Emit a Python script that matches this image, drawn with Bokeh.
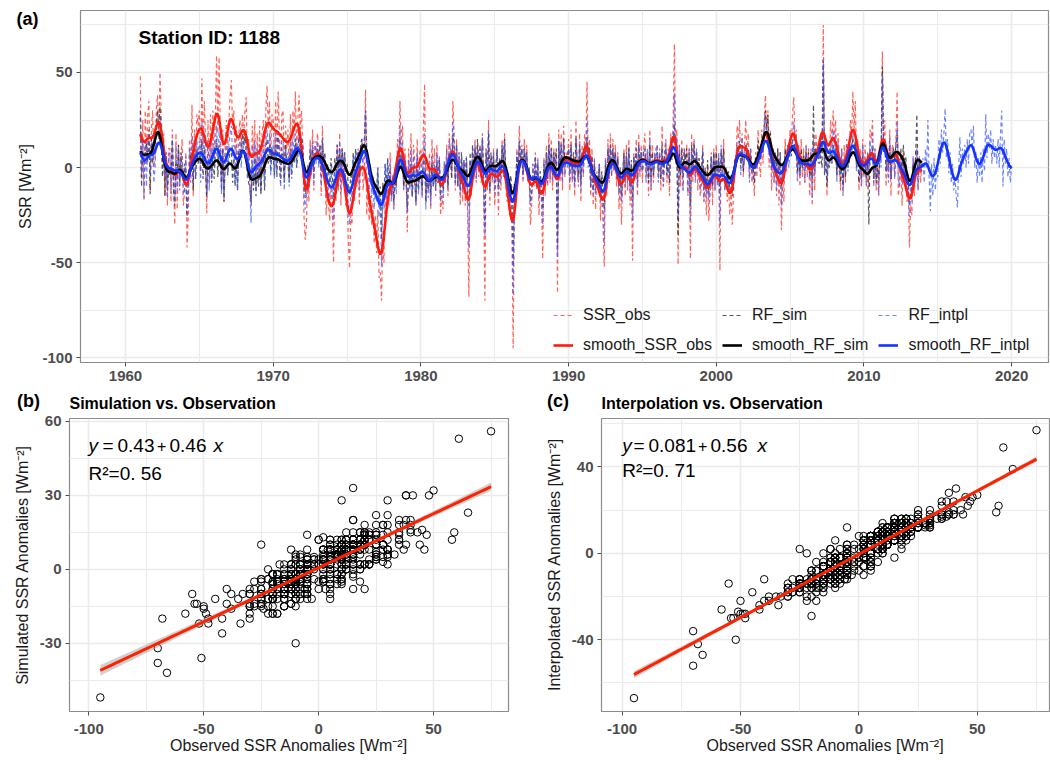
import numpy as np
from bokeh.plotting import figure
from bokeh.layouts import column, row
from bokeh.models import Range1d, FixedTicker, Label, Legend, LegendItem, PrintfTickFormatter
from bokeh.embed import file_html
from bokeh.resources import INLINE

FONT = "Liberation Sans"

# ---------------- data (monthly anomalies, W m-2) ----------------
START_YEAR = 1961

ssr_obs = [
    48, -5, 25, -17, 30, 2, 28, 35, -12, 20, 30, 0,
    5, 30, 38, 15, 50, 28, 2, 18, -15, 8, -20, 10,
    10, -18, 20, -10, -30, 18, -22, 12, -6, 4, 15, -20,
    -12, 8, -42, -25, 15, -5, 33, -15, 20, 5, 28, 22,
    30, -2, 47, 10, 35, 15, -24, 25, -8, 28, 5, 30,
    5, 28, 59, 18, 58, 22, -8, 20, -18, 12, 25, 8,
    25, 38, 46, 20, 30, 5, 22, -5, 18, 25, 10, 28,
    15, 30, 37, 2, 15, -8, -20, 22, 5, 25, -10, 18,
    -5, 22, -12, 18, 25, -3, 30, 43, 20, 35, 5, 28,
    25, 5, 35, 0, 40, 18, -5, 28, 30, -6, 22, 10,
    20, -5, 28, 2, 30, 15, 40, 10, 25, 38, 20, 30,
    10, -25, -38, -30, -5, -18, 15, -2, 20, -12, 14, 8,
    18, 5, 12, -15, 22, -5, 2, -25, -12, -20, -28, -10,
    -22, -50, -8, -18, 12, -12, 18, -20, 10, -5, 8, -20,
    -10, -38, -53, -25, -30, 2, -18, 5, -10, 8, -20, 5,
    15, -12, -5, 41, -25, -10, -28, -15, -30, -18, -40, -25,
    -45, -22, -58, -55, -70, -40, -50, -12, -25, -5, -20, 8,
    -15, -5, -22, 0, -10, 15, 5, 35, 12, 22, -12, 10,
    -5, -34, 10, -8, 18, -15, 12, 3, -20, 15, -10, 8,
    10, -15, 20, 44, -18, 5, -10, 8, -22, 15, -5, 10,
    -15, 12, -8, 5, -25, -15, -22, 2, -8, 12, -15, 18,
    8, -5, 35, 18, -12, 15, -10, 8, -20, 5, -18, 2,
    -20, 5, -25, -68, 2, -15, 10, -5, 15, -8, 12, -5,
    12, -8, 18, -15, -70, 10, -12, 25, -20, 5, -8, 10,
    -20, -5, 10, -25, 2, -12, 15, -5, 18, -10, -18, -5,
    -25, -10, -35, -95, -15, -20, 10, -5, 22, 0, 12, -8,
    15, -2, 12, -8, -5, -30, -20, 2, -10, 8, -12, 5,
    -25, -5, -18, -48, 5, -15, 12, -10, 18, -8, 15, -12,
    10, -5, 8, -66, 20, -8, 18, -12, 22, -5, 8, 2,
    15, -12, 20, -8, 5, -15, 25, 0, -10, 18, -18, 12,
    -5, 18, 8, 45, 2, 15, -15, 10, -20, 5, -22, -2,
    -12, 2, -28, -5, -30, -52, 5, -15, 15, -8, 18, -5,
    15, -2, 12, -10, 8, -22, -5, -30, -8, 10, -15, 12,
    -12, 15, -20, 2, -49, 8, -5, 15, -15, 18, -5, 12,
    -8, 10, 18, -5, 8, -15, 20, -12, 12, -8, 5, 10,
    12, -5, 8, -12, 22, -10, 8, 15, -8, 10, -15, 18,
    5, 25, 65, 10, 20, -51, 12, -10, 15, -12, 10, 2,
    12, -15, 10, -48, 18, -8, 15, -5, 8, -12, 5, -15,
    -10, 12, -18, -5, -25, 2, -28, -10, 8, -20, 10, -12,
    12, -8, 5, -54, 10, -5, 15, -12, -5, -18, -8, -25,
    -10, -30, -15, 5, 2, 22, 15, 25, 0, 18, -5, 12,
    25, 5, 18, -5, 10, -8, -2, -15, 8, -5, 20, 2,
    -5, 20, 2, 25, 38, 15, 30, 0, 20, -12, 10, -8,
    5, -15, 10, -20, 5, -33, -5, -18, 15, -2, 12, 5,
    20, 10, 28, 37, 15, 20, -5, 12, -10, 15, -5, 10,
    -8, 12, -5, 10, -15, 8, -20, 15, -12, 18, 5, 10,
    5, 18, 10, 75, 2, 15, -15, 12, 5, 25, 10, 30,
    15, 25, -5, 18, 5, -12, 10, -15, 12, -8, 15, 2,
    5, 25, 15, 40, 20, 35, 2, 15, -12, 10, -10, 15,
    -5, 12, -10, 8, -10, 20, 15, 25, -8, 10, -12, 5,
    -15, 10, 5, 61, 12, 25, -10, 8, -5, 20, -15, 12,
    10, -5, 15, 40, -15, -8, 5, -20, 8, -10, 2, -18,
    -10, -42, -20, -25, 5, -15, 8, 10, -12, 5, -8, 2,
]

rf_sim = [
    30, -10, 7, 2, 8, 13, 3, 20, -14, 15, 2, 12,
    12, 22, 30, 20, 32, 18, -5, 12, -15, 6, -12, 0,
    -4, -2, 15, -12, -20, 2, -4, 12, -10, 8, -3, -6,
    2, -6, -26, -4, 0, 8, 6, -12, 15, -6, 10, 2,
    6, 5, 14, -6, 10, -2, -16, 4, 2, 5, -8, 8,
    -6, 8, 15, -5, 12, 4, -12, 10, -18, 2, 6, -4,
    4, 10, 8, -8, 5, -10, 2, -12, 8, 10, 5, 18,
    12, 18, 8, -2, -8, -10, -18, 2, -12, 5, -15, 0,
    -10, 2, -14, 0, 5, -12, 8, 15, 2, 12, -2, 10,
    5, -4, 12, -5, 20, 2, -8, 10, 6, -8, 12, 2,
    2, -8, 10, -4, 8, 2, 15, 0, 6, 20, 10, 15,
    12, -5, -16, -10, -6, -2, 8, 4, 10, -2, 8, 5,
    10, 2, 12, -2, 14, 4, 8, -8, 2, -2, -8, 5,
    -4, -16, 5, -2, 12, 0, 10, -5, 10, 2, 8, -2,
    2, -10, -14, -4, -8, 8, -2, 10, 2, 8, -5, 12,
    15, 8, 14, 30, 10, 6, -5, -2, -10, -6, -14, -8,
    -12, 0, -18, -10, -38, -8, -15, 2, -12, 5, -10, -2,
    -15, -6, -18, -8, -10, 2, -2, 15, 0, 8, -10, -2,
    -8, -22, -4, -10, 2, -15, 0, -8, -18, 5, -12, -2,
    -5, -12, 2, 10, -18, -6, -12, -2, -15, 2, -10, -2,
    -10, 2, -8, 4, -15, -4, -12, -5, 2, 0, -10, 8,
    8, -6, 18, 10, -8, 12, -10, 6, -12, 8, -5, 4,
    -8, 5, -14, -20, 8, -10, 12, -2, 10, 0, 15, 2,
    10, 2, 15, -4, -32, 8, -6, 18, -12, 8, -2, 6,
    -8, 2, 10, -10, 5, -2, 12, 4, 15, -2, -8, -3,
    -10, -4, -12, -52, -8, -12, 6, -2, 14, 2, 10, -4,
    10, 2, 8, -5, 0, -18, -12, -4, -8, 5, -10, 2,
    -14, -2, -12, -22, 2, -10, 8, -6, 12, -2, 10, -4,
    8, 2, 10, -42, 14, 0, 12, -4, 15, 2, 6, 4,
    10, -2, 12, -2, 8, -8, 15, 4, -5, 12, -8, 8,
    2, 10, 5, 16, 4, 10, -10, 6, -12, 2, -12, -4,
    -8, 2, -15, -2, -14, -22, 2, -8, 10, -2, 12, 0,
    10, 2, 8, -4, 5, -12, 0, -15, -2, 8, -8, 6,
    -5, 10, -10, 4, -18, 6, -2, 10, -8, 12, 0, 8,
    -2, 8, 10, 0, 4, -8, 12, -5, 8, -4, 5, 6,
    8, -2, 6, -6, 12, -4, 5, 10, -4, 6, -8, 10,
    4, 14, 23, 8, 12, -36, 8, -4, 10, -5, 8, 4,
    10, -4, 8, -20, 12, 2, 12, 2, 8, -4, 5, -6,
    -2, 8, -10, 0, -12, 4, -14, -4, 6, -10, 8, -5,
    8, -2, 5, -14, 8, 0, 10, -4, 0, -8, -2, -12,
    -4, -15, -8, 4, 2, 12, 8, 14, 2, 10, -2, 6,
    12, 4, 10, 0, 6, -2, 0, -8, 6, 2, 14, 4,
    5, 14, 8, 22, 30, 20, 28, 12, 18, 0, 10, 2,
    8, 0, 10, -2, 8, -10, 2, -5, 10, 4, 8, 6,
    10, 6, 14, 18, 8, 10, -2, 8, -4, 10, 0, 6,
    0, 8, 2, 8, -5, 6, -6, 33, -2, 10, 5, 6,
    2, 6, 0, 56, -4, 4, -10, 4, 0, 10, 2, 12,
    5, 10, -4, 8, 0, -8, 4, -10, 5, -5, 8, 0,
    2, 10, 6, 16, 10, 14, 0, 6, -8, 4, -6, 6,
    -4, 2, -6, 2, -30, 8, 5, 10, -6, 4, -8, 2,
    -6, 4, 8, 53, 8, 14, -2, 6, 0, 12, -6, 8,
    10, 4, 12, 18, 2, 6, 10, -2, 12, 4, 6, -4,
    -8, -20, -15, -10, 2, -5, 5, 28, -4, 4, -2, 2,
]

rf_intpl = [
    26, -4, 14, -16, 14, -10, 13, 17, -4, 14, 12, -8,
    0, 16, 18, 16, 27, 14, 6, 4, -6, 8, -16, 6,
    8, -14, 14, -2, -18, 12, -12, 10, -12, 4, 6, -14,
    -12, 6, -24, -14, 10, -8, 16, -6, 12, -4, 14, 8,
    14, -8, 24, 4, 16, -2, -14, 14, -12, 14, -6, 13,
    4, 14, 22, 2, 19, 12, -14, 10, -16, 8, 12, -4,
    12, 18, 22, 6, 12, -8, 12, -12, 6, 16, 0, 14,
    10, 14, 17, -6, 8, -10, -29, 12, -6, 14, -12, 10,
    -4, 12, -14, 10, 12, -10, 14, 20, 8, 18, -4, 12,
    12, -6, 18, -2, 18, 8, -10, 14, 14, -12, 10, 4,
    8, -10, 14, -6, 16, 6, 18, 0, 12, 19, 8, 15,
    14, -14, -22, -16, 2, -12, 12, -4, 14, -8, 12, 2,
    14, 0, 12, -10, 16, -4, 6, -16, -2, -14, -16, 0,
    -14, -28, 2, -14, 12, -10, 14, -14, 10, -6, 8, -14,
    -8, -20, -30, -12, -16, 6, -12, 8, -8, 10, -12, 8,
    16, 2, 12, 30, 2, 6, -12, 0, -16, -4, -22, -12,
    -18, 0, -26, -14, -52, -12, -22, 2, -16, 4, -14, 2,
    -18, -4, -22, -2, -14, 8, 0, 22, 4, 14, -12, 6,
    -4, -24, 4, -12, 10, -16, 6, -2, -20, 8, -14, 2,
    2, -16, 8, 18, -22, -4, -16, 0, -20, 6, -10, 2,
    -12, 8, -8, 6, -18, -12, -16, 4, -8, 10, -12, 14,
    10, -2, 24, 14, -8, 12, -10, 8, -14, 6, -12, 4,
    -14, 6, -16, -42, 4, -12, 10, -6, 12, -6, 10, -2,
    12, -2, 16, -10, -36, 10, -8, 20, -12, 6, -6, 8,
    -14, -4, 10, -14, 4, -8, 12, 0, 14, -6, -12, -2,
    -14, -6, -20, -67, -10, -12, 8, -4, 14, 2, 10, -6,
    10, 2, 8, -8, -2, -20, -14, 2, -8, 6, -10, 4,
    -16, -2, -12, -30, 4, -10, 8, -8, 12, -6, 10, -8,
    8, -4, 6, -47, 14, -6, 12, -8, 14, -4, 6, 0,
    10, -8, 12, -6, 4, -10, 16, -2, -8, 12, -12, 8,
    -4, 12, 4, 26, 0, 10, -10, 6, -14, 4, -14, -4,
    -10, 2, -18, -6, -20, -40, 4, -12, 10, -6, 12, -4,
    10, -2, 8, -6, 6, -14, -2, -18, -6, 6, -10, 8,
    -8, 10, -12, 2, -28, 6, -4, 10, -10, 12, -2, 8,
    -2, 10, 8, -8, 10, -6, 16, -12, 4, -2, 8, 2,
    12, -8, 10, -4, 10, -10, 2, 14, -2, 4, -6, 14,
    8, 12, 39, 2, 16, -27, 12, -2, 6, -12, 10, -2,
    4, -14, 10, -28, 8, -2, 14, -8, 10, -4, 0, -12,
    -2, 10, -18, -2, -16, -6, -18, -14, 6, -10, 8, -12,
    4, -10, 8, -30, 12, -8, 6, -12, 0, -8, -10, -12,
    -12, -14, -4, 0, 6, 10, 14, 12, -4, 16, 0, 4,
    12, 8, 8, -8, 10, -2, -6, -6, 2, 0, 8, 6,
    4, 10, 8, 14, 28, 16, 18, 8, 10, -2, 4, -8,
    8, -12, 4, -8, 8, -20, 2, -8, 6, 4, 12, 0,
    10, 12, 14, 24, 14, 8, -8, 12, -4, 6, 0, 4,
    -8, 12, 2, 4, -6, 10, -16, 14, -4, 8, 8, 2,
    8, 6, 10, 57, -2, 14, -6, 4, 8, 12, 2, 20,
    6, 18, -8, 14, -2, -4, 10, -14, 4, -2, 12, -2,
    8, 12, 12, 20, 16, 16, -2, 12, -4, 2, -10, 12,
    0, 4, -10, 8, -4, 14, 6, 18, -10, 10, -4, -2,
    -14, 10, 0, 49, 10, 12, -2, 2, -8, 16, -6, 4,
    10, -6, 6, 24, -6, -10, 8, -8, 2, -4, 4, -14,
    -4, -26, -8, -18, 6, -6, 2, 10, -12, 6, -2, -2,
    5, -8, 10, 0, 25, -5, -23, 2, -15, 5, -12, -2,
    -5, 15, 2, 20, 8, 18, 31, 5, 15, -3, 8, -8,
    2, -12, -5, -15, -21, 0, 16, -5, 10, 2, 12, 0,
    15, 2, 18, 20, 10, 22, 0, 8, -8, 5, -5, 8,
    -8, 10, -2, 28, 5, 18, 10, 20, 2, 15, 5, 12,
    2, 15, 0, 18, 30, -10, 15, 2, 10, -5, 5, -8,
    1,
]

year_ticks = [1960, 1970, 1980, 1990, 2000, 2010, 2020]
year_minor = [1965, 1975, 1985, 1995, 2005, 2015]
ssr_ticks = [-100, -50, 0, 50]
ssr_minor = [-75, -25, 25, 75]
obs_ticks = [-100, -50, 0, 50]
obs_minor = [-75, -25, 25, 75]
sim_ticks = [-30, 0, 30, 60]
sim_minor = [-45, -15, 15, 45]
int_ticks = [-40, 0, 40]
int_minor = [-60, -20, 20, 60]

legend_labels = ["SSR_obs", "RF_sim", "RF_intpl",
                 "smooth_SSR_obs", "smooth_RF_sim", "smooth_RF_intpl"]
eq_b = ["y", "=", "0.43", "+", "0.46", "x"]
r2_b = "R\u00b2=0. 56"
eq_c = ["y", "=", "0.081", "+", "0.56", "x"]
r2_c = "R\u00b2=0. 71"

# ---------------- derived ----------------
t_obs = START_YEAR + np.arange(len(ssr_obs)) / 12.0
t_int = START_YEAR + np.arange(len(rf_intpl)) / 12.0


def smooth(v, sigma=2.5):
    v = np.asarray(v, float)
    idx = np.arange(len(v))
    out = np.empty(len(v))
    for i in range(len(v)):
        w = np.exp(-0.5 * ((idx - i) / sigma) ** 2)
        out[i] = (w * v).sum() / w.sum()
    return out


def linfit(x, y):
    x = np.asarray(x, float)
    y = np.asarray(y, float)
    n = len(x)
    b, a = np.polyfit(x, y, 1)
    res = y - (a + b * x)
    s = np.sqrt((res ** 2).sum() / (n - 2))
    xs = np.linspace(x.min(), x.max(), 100)
    se = s * np.sqrt(1.0 / n + (xs - x.mean()) ** 2 / ((x - x.mean()) ** 2).sum())
    yh = a + b * xs
    return xs, yh, yh - 1.96 * se, yh + 1.96 * se


def style(p, tick_size):
    p.outline_line_color = "#8c8c8c"
    p.outline_line_width = 1.2
    p.background_fill_color = "white"
    p.border_fill_alpha = 0.0
    for ax in (p.xaxis[0], p.yaxis[0]):
        ax.axis_line_color = None
        ax.major_tick_line_color = "#4d4d4d"
        ax.major_tick_out = 4
        ax.major_tick_in = 0
        ax.minor_tick_line_color = None
        ax.formatter = PrintfTickFormatter(format="%d")
        ax.major_label_text_font = FONT
        ax.major_label_text_font_style = "bold"
        ax.major_label_text_color = "#4d4d4d"
        ax.major_label_text_font_size = tick_size
        ax.major_label_standoff = 4
        ax.axis_label_text_font = FONT
        ax.axis_label_text_font_style = "normal"
        ax.axis_label_text_font_size = "16px"
        ax.axis_label_text_color = "#1a1a1a"
        ax.axis_label_standoff = 3
    for g in (p.xgrid[0], p.ygrid[0]):
        g.grid_line_color = "#ebebeb"
        g.grid_line_width = 1.6
        g.minor_grid_line_color = "#ebebeb"
        g.minor_grid_line_width = 1.0


def title_style(p, text, size="16px", offset=0.0, standoff=13):
    p.title.text = text
    p.title.align = "left"
    p.title.offset = offset
    p.title.text_font = FONT
    p.title.text_font_size = size
    p.title.text_font_style = "bold"
    p.title.text_color = "black"
    p.title.standoff = standoff


def side_fig(width, height, y_top, y_bottom):
    # the row aligns a side strip's frame with its neighbour's frame;
    # its y range is expressed in page pixels of that frame
    f = figure(width=width, height=height, x_range=Range1d(0, width),
               y_range=Range1d(y_bottom, y_top),
               output_backend="svg", toolbar_location=None, x_axis_type=None, y_axis_type=None,
               min_border_left=0, min_border_right=0, min_border_top=0, min_border_bottom=0)
    f.outline_line_color = None
    f.background_fill_color = "white"
    f.border_fill_alpha = 0.0
    return f


def side_text(f, x, y, text, size, fstyle="normal", angle=0.0, align="left", color="black"):
    f.add_layout(Label(x=x, y=y, text=text, text_font=FONT, text_font_size=size,
                       text_font_style=fstyle, text_color=color, text_align=align,
                       text_baseline="middle", angle=angle))


def label_data(p, fl, fr, ft, fb, xr, yr, px, py, text, size, fstyle="normal"):
    x = xr[0] + (px - fl) / (fr - fl) * (xr[1] - xr[0])
    y = yr[1] - (py - ft) / (fb - ft) * (yr[1] - yr[0])
    p.add_layout(Label(x=x, y=y, text=text, text_font=FONT, text_font_size=size,
                       text_font_style=fstyle, text_color="black", text_align="left",
                       text_baseline="middle"))


# ---------------- panel (a) ----------------
XA = (1956.95, 2022.5)
YA = (-102.5, 82.6)
side_a = side_fig(46, 388, 10, 362)
side_text(side_a, 16, 18.5, "(a)", "18px", "bold")
side_text(side_a, 25, 186, "SSR [Wm\u207b\u00b2]", "16px", angle=np.pi / 2, align="center",
          color="#1a1a1a")

pa = figure(width=1020, height=388, x_range=Range1d(*XA), y_range=Range1d(*YA),
            output_backend="svg", toolbar_location=None, margin=(0, 0, 0, -16),
            min_border_left=50, min_border_right=2, min_border_top=10, min_border_bottom=26)
style(pa, "15px")
pa.xaxis.ticker = FixedTicker(ticks=year_ticks, minor_ticks=year_minor)
pa.yaxis.ticker = FixedTicker(ticks=ssr_ticks, minor_ticks=ssr_minor)

r1 = pa.line(t_obs, ssr_obs, line_color="#ff3b30", line_alpha=0.8, line_width=1.2, line_dash="4 3")
r2 = pa.line(t_obs, rf_sim, line_color="#222222", line_alpha=0.75, line_width=1.2, line_dash="4 3")
r3 = pa.line(t_int, rf_intpl, line_color="#3d5cff", line_alpha=0.75, line_width=1.2, line_dash="4 3")
r4 = pa.line(t_obs, smooth(ssr_obs), line_color="#ff1a0d", line_width=2.6)
r5 = pa.line(t_obs, smooth(rf_sim), line_color="black", line_width=2.6)
r6 = pa.line(t_int, smooth(rf_intpl), line_color="#1433ff", line_width=2.6)

leg = Legend(items=[LegendItem(label=l, renderers=[r]) for l, r in
                    zip(legend_labels, [r1, r2, r3, r4, r5, r6])],
             orientation="horizontal", ncols=3, location=(468, 2),
             label_text_font=FONT, label_text_font_size="16px", label_text_color="#1a1a1a",
             glyph_width=20, glyph_height=20, label_height=20, label_standoff=10,
             spacing=10, padding=5, margin=0,
             background_fill_alpha=0, border_line_alpha=0)
pa.add_layout(leg)

FA = (80, 1048, 10, 362)
label_data(pa, *FA, XA, YA, 138, 37, "Station ID: 1188", "19px", "bold")

# bottom row: starts at page y 374 (pulled up 14 px), frames span page y 418..711
H_B = 386
TOP_B = 44
BOT_B = 49

# ---------------- panel (b) ----------------
XB = (-108.4, 82.6)
YB = (-57.7, 61.2)
side_b = side_fig(46, H_B, 418, 711)
title_style(side_b, "(b)", size="18px", offset=16.5, standoff=16)
side_text(side_b, 22, 564.5, "Simulated SSR Anomalies [Wm\u207b\u00b2]", "16px",
          angle=np.pi / 2, align="center", color="#1a1a1a")

pb = figure(width=501, height=H_B, x_range=Range1d(*XB), y_range=Range1d(*YB),
            output_backend="svg", toolbar_location=None, margin=(0, 0, 0, -17),
            min_border_left=40, min_border_right=22, min_border_top=TOP_B, min_border_bottom=BOT_B)
style(pb, "15px")
pb.xaxis.major_label_standoff = 8
pb.xaxis.axis_label_standoff = 0
title_style(pb, "Simulation vs. Observation", standoff=13)
pb.xaxis.ticker = FixedTicker(ticks=obs_ticks, minor_ticks=obs_minor)
pb.yaxis.ticker = FixedTicker(ticks=sim_ticks, minor_ticks=sim_minor)
pb.xaxis.axis_label = "Observed SSR Anomalies [Wm\u207b\u00b2]"
pb.scatter(ssr_obs, rf_sim, marker="circle", size=7.5, fill_color=None,
           line_color="black", line_width=1)
xs, yh, lo, hi = linfit(ssr_obs, rf_sim)
pb.varea(x=xs, y1=lo, y2=hi, fill_color="#999999", fill_alpha=0.45)
pb.line(xs, yh, line_color="#ff2200", line_width=3)

FB = (69, 508, 418, 711)
for px, txt in zip([88, 102, 117, 156.5, 169, 213], eq_b):
    size = "16px" if txt == "+" else "19px"
    label_data(pb, *FB, XB, YB, px, 445, txt, size, "italic" if txt in ("x", "y") else "normal")
label_data(pb, *FB, XB, YB, 88, 472.5, r2_b, "19px")

# ---------------- panel (c) ----------------
XC = (-108.7, 80.5)
YC = (-73.2, 62.4)
side_c = side_fig(46, H_B, 418, 711)
title_style(side_c, "(c)", size="18px", offset=16.5, standoff=16)
side_text(side_c, 24, 564, "Interpolated SSR Anomalies [Wm\u207b\u00b2]", "16px",
          angle=np.pi / 2, align="center", color="#1a1a1a")

pc = figure(width=489, height=H_B, x_range=Range1d(*XC), y_range=Range1d(*YC),
            output_backend="svg", toolbar_location=None, margin=(0, 0, 0, -15),
            min_border_left=40, min_border_right=1, min_border_top=TOP_B, min_border_bottom=BOT_B)
style(pc, "15px")
pc.xaxis.major_label_standoff = 8
pc.xaxis.axis_label_standoff = 0
title_style(pc, "Interpolation vs. Observation", standoff=13)
pc.xaxis.ticker = FixedTicker(ticks=obs_ticks, minor_ticks=obs_minor)
pc.yaxis.ticker = FixedTicker(ticks=int_ticks, minor_ticks=int_minor)
pc.xaxis.axis_label = "Observed SSR Anomalies [Wm\u207b\u00b2]"
n_common = len(ssr_obs)
pc.scatter(ssr_obs, rf_intpl[:n_common], marker="circle", size=7.5, fill_color=None,
           line_color="black", line_width=1)
xs, yh, lo, hi = linfit(ssr_obs, rf_intpl[:n_common])
pc.varea(x=xs, y1=lo, y2=hi, fill_color="#999999", fill_alpha=0.45)
pc.line(xs, yh, line_color="#ff2200", line_width=3)

FC = (601, 1049, 418, 711)
for px, txt in zip([621.7, 633, 648, 697.5, 710, 757], eq_c):
    size = "16px" if txt == "+" else "19px"
    label_data(pc, *FC, XC, YC, px, 445, txt, size, "italic" if txt in ("x", "y") else "normal")
label_data(pc, *FC, XC, YC, 621.7, 470, r2_c, "19px")

layout = column(row(side_a, pa),
                row(side_b, pb, side_c, pc, margin=(-14, 0, 0, 0)))
open("out.html", "w").write(file_html(layout, INLINE, title="SSR station 1188"))
